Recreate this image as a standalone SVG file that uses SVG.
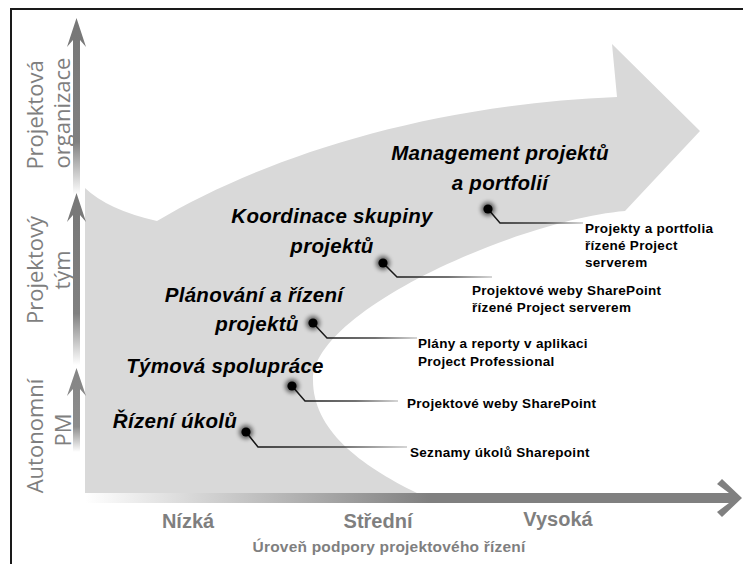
<svg xmlns="http://www.w3.org/2000/svg" width="743" height="564" viewBox="0 0 743 564">
<defs>
<style>
.ax{font-family:"Open Sans","Liberation Sans",sans-serif;font-size:22px;fill:#7f7f7f;text-anchor:middle}
.lv{font-family:"Liberation Sans",Arial,sans-serif;font-weight:bold;font-size:20px;fill:#7f7f7f;text-anchor:middle}
.st{font-family:"Liberation Sans",Arial,sans-serif;font-weight:bold;font-style:italic;font-size:20.5px;letter-spacing:0.3px;fill:#000;text-anchor:middle}
.co{font-family:"Liberation Sans",Arial,sans-serif;font-weight:bold;font-size:13.5px;letter-spacing:0.3px;fill:#000}
.ln{fill:none;stroke:url(#fade);stroke-width:1.5}
</style>
<linearGradient id="vfade" x1="0" y1="0" x2="0" y2="1">
<stop offset="0" stop-color="#777"/><stop offset="0.7" stop-color="#808080"/><stop offset="1" stop-color="#fff"/>
</linearGradient>
<linearGradient id="hfade" gradientUnits="userSpaceOnUse" x1="85" y1="0" x2="430" y2="0">
<stop offset="0" stop-color="#fff"/><stop offset="1" stop-color="#808080"/>
</linearGradient>
<linearGradient id="fade" x1="0" y1="0" x2="1" y2="0">
<stop offset="0" stop-color="#111"/><stop offset="0.6" stop-color="#444"/><stop offset="1" stop-color="#c8c8c8"/>
</linearGradient>
<filter id="glow" x="-1" y="-1" width="3" height="3"><feGaussianBlur stdDeviation="2.2"/></filter>
<symbol id="dot" overflow="visible"><circle r="7" fill="#000" opacity="0.55" filter="url(#glow)"/><circle r="4.6" fill="#000"/></symbol>
</defs>
<rect width="743" height="564" fill="#fff"/>
<path d="M11,564 V9 H743" fill="none" stroke="#1a1a1a" stroke-width="2"/>

<g id="band">
<path d="M85,188 Q108,210 157,221 C260,160 420,105 617,97 L612,44 L700,131 L625,211 C520,220 313,310 313,380 C313,430 360,465 417,493 L85,493 Z" fill="#d9d9d9"/>
</g>

<g id="axes">
<path d="M76.5,18 L86,47 L80,40 L80,195 L73,195 L73,40 L67,47 Z" fill="url(#vfade)"/>
<path d="M76.5,193 L86,222 L80,215 L80,365 L73,365 L73,215 L67,222 Z" fill="url(#vfade)"/>
<path d="M76.5,368 L86,396 L80,389 L80,452 L73,452 L73,389 L67,396 Z" fill="url(#vfade)" opacity="0.9"/>
<path d="M742,498 L722,479 L717,484 L729,493 L85,493 L85,503 L729,503 L717,512 L722,517 Z" fill="url(#hfade)"/>
</g>

<g id="y-labels">
<text class="ax" transform="translate(43,115) rotate(-90)">Projektová</text>
<text class="ax" transform="translate(70,113) rotate(-90)">organizace</text>
<text class="ax" transform="translate(43,270) rotate(-90)">Projektový</text>
<text class="ax" transform="translate(70,270) rotate(-90)">tým</text>
<text class="ax" transform="translate(43,436) rotate(-90)">Autonomní</text>
<text class="ax" transform="translate(71,430) rotate(-90)">PM</text>
</g>

<g id="x-labels">
<text class="lv" x="188" y="528">Nízká</text>
<text class="lv" x="378" y="528">Střední</text>
<text class="lv" x="558" y="526">Vysoká</text>
<text x="389" y="552" font-family="Liberation Sans, Arial, sans-serif" font-weight="bold" font-size="15.5" letter-spacing="0.2" fill="#7f7f7f" text-anchor="middle">Úroveň podpory projektového řízení</text>
</g>

<g id="connectors">
<polyline class="ln" points="488,209 500,223 583,223"/>
<polyline class="ln" points="383,263 397,277 492,277"/>
<polyline class="ln" points="313,323 327,338 417,338"/>
<polyline class="ln" points="292,386 305,401 398,401"/>
<polyline class="ln" points="246,432 258,447 407,447"/>
</g>

<g id="node-management">
<text class="st" x="500" y="160">Management projektů</text>
<text class="st" x="500" y="190">a portfolií</text>
<use href="#dot" x="488" y="209"/>
</g>
<g id="node-koordinace">
<text class="st" x="332" y="223">Koordinace skupiny</text>
<text class="st" x="332" y="253">projektů</text>
<use href="#dot" x="383" y="263"/>
</g>
<g id="node-planovani">
<text class="st" x="254" y="302">Plánování a řízení</text>
<text class="st" x="257" y="331">projektů</text>
<use href="#dot" x="313" y="323"/>
</g>
<g id="node-tymova">
<text class="st" x="225" y="373">Týmová spolupráce</text>
<use href="#dot" x="292" y="386"/>
</g>
<g id="node-rizeni">
<text class="st" x="175" y="428">Řízení úkolů</text>
<use href="#dot" x="246" y="432"/>
</g>

<g id="callout-1">
<text class="co" x="585" y="233">Projekty a portfolia</text>
<text class="co" x="585" y="250">řízené Project</text>
<text class="co" x="585" y="267">serverem</text>
</g>
<g id="callout-2">
<text class="co" x="472" y="295">Projektové weby SharePoint</text>
<text class="co" x="472" y="312">řízené Project serverem</text>
</g>
<g id="callout-3">
<text class="co" x="418" y="348">Plány a reporty v aplikaci</text>
<text class="co" x="418" y="366">Project Professional</text>
</g>
<g id="callout-4">
<text class="co" x="407" y="408">Projektové weby SharePoint</text>
</g>
<g id="callout-5">
<text class="co" x="410" y="457">Seznamy úkolů Sharepoint</text>
</g>
</svg>
